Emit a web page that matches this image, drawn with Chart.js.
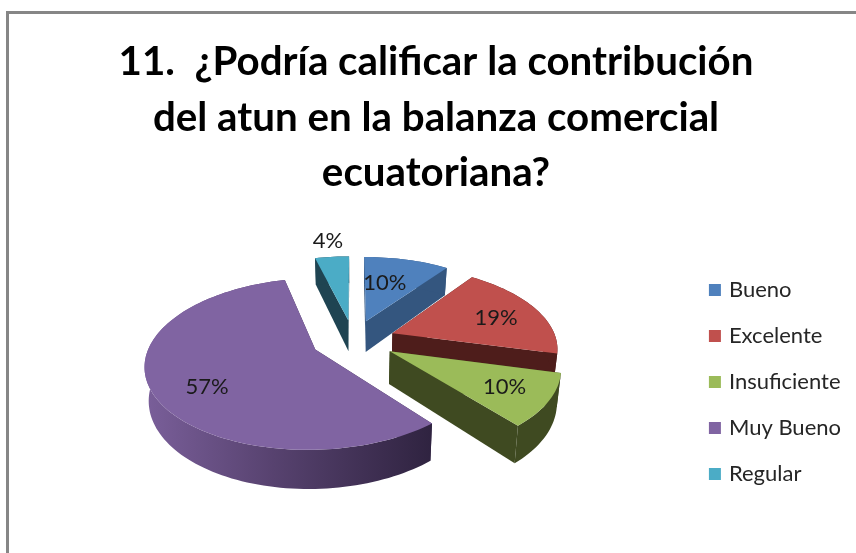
<!DOCTYPE html>
<html>
<head>
<meta charset="utf-8">
<script src="https://cdn.jsdelivr.net/npm/chart.js@4"></script>
<style>
  body { margin: 0; background: #fff; }
  #wrap { position: relative; width: 856px; height: 553px; overflow: hidden; }
  #frame { position: absolute; left: 6px; top: 11px; right: 0; bottom: 0; border-left: 3px solid #868686; border-top: 3px solid #868686; }
  canvas { position: absolute; left: 0; top: 0; }
</style>
</head>
<body>
<div id="wrap">
  <div id="frame"></div>
  <canvas id="pieChart" width="856" height="553"></canvas>
</div>
<script>
const categories = ["Bueno", "Excelente", "Insuficiente", "Muy Bueno", "Regular"];
const percentages = [10, 19, 10, 57, 4];
const titleLines = [
  "11.  ¿Podría calificar la contribución",
  "del atun en la balanza comercial",
  "ecuatoriana?",
];

const faceColors = ["#4F81BD", "#C0504D", "#9BBB59", "#8064A2", "#4BACC6"];
const wallColors = ["#34567F", "#4E1D1B", "#3F4A21", "#3A2C4D", "#1F4452"];

// label spot for each slice: distance out (1 = rim) and turn off the slice middle
const labelReach = [0.57, 0.7, 0.74, 0.72, 1.3];
const labelTurn = [-0.07, 0.05, 0, -0.15, 0];

// fake 3D view, Chart.js only does flat pies
const tilt = 0.49;
const perspective = 0.001;
const thickness = 32;
const shiftX = -1;
const shiftY = -42;

function project(el, u, v, z) {
  const k = 1 / (1 - v * perspective);
  const shrink = 1 - 0.02 * z;
  return {
    x: el.x + shiftX + u * k * shrink,
    y: el.y + shiftY + (v * tilt + thickness * z) * k,
  };
}

function slicePoint(el, angle, r, z) {
  const mid = (el.startAngle + el.endAngle) / 2;
  const off = el.options.offset;
  return project(
    el,
    Math.cos(angle) * r + Math.cos(mid) * off,
    Math.sin(angle) * r + Math.sin(mid) * off,
    z
  );
}

function arcPoints(el, z) {
  const pts = [];
  const steps = Math.max(8, Math.ceil((el.endAngle - el.startAngle) / 0.03));
  for (let i = 0; i <= steps; i++) {
    const a = el.startAngle + ((el.endAngle - el.startAngle) * i) / steps;
    pts.push(slicePoint(el, a, el.outerRadius, z));
  }
  return pts;
}

function fillPoly(ctx, pts, fill) {
  ctx.beginPath();
  pts.forEach((p, i) => (i ? ctx.lineTo(p.x, p.y) : ctx.moveTo(p.x, p.y)));
  ctx.closePath();
  ctx.fillStyle = fill;
  ctx.fill();
}

const pie3d = {
  id: "pie3d",
  beforeDatasetDraw(chart, args) {
    const ctx = chart.ctx;
    const arcs = chart.getDatasetMeta(args.index).data;
    // back slices first
    const order = arcs
      .map((el, i) => ({ el, i }))
      .sort((a, b) => {
        const ma = (a.el.startAngle + a.el.endAngle) / 2;
        const mb = (b.el.startAngle + b.el.endAngle) / 2;
        return Math.sin(ma) - Math.sin(mb);
      });

    order.forEach(({ el, i }) => {
      const top = arcPoints(el, 0);
      const bottom = arcPoints(el, 1);
      const apexTop = slicePoint(el, el.startAngle, 0, 0);
      const apexBottom = slicePoint(el, el.startAngle, 0, 1);

      // cut walls
      fillPoly(ctx, [apexTop, top[0], bottom[0], apexBottom], wallColors[i]);
      fillPoly(
        ctx,
        [apexTop, top[top.length - 1], bottom[bottom.length - 1], apexBottom],
        wallColors[i]
      );

      // outer rim, the big slice gets the shaded look
      let rimFill = wallColors[i];
      if (percentages[i] > 50) {
        const xs = top.map((p) => p.x);
        rimFill = ctx.createLinearGradient(Math.min(...xs), 0, Math.max(...xs), 0);
        rimFill.addColorStop(0, "#7A5F9A");
        rimFill.addColorStop(0.45, "#57426F");
        rimFill.addColorStop(1, "#2F2340");
      }
      fillPoly(ctx, top.concat(bottom.slice().reverse()), rimFill);

      fillPoly(ctx, [apexTop].concat(top), faceColors[i]);
    });

    // percent labels
    ctx.font = "22px Lato";
    ctx.fillStyle = "#1A1A1A";
    ctx.textAlign = "center";
    ctx.textBaseline = "middle";
    arcs.forEach((el, i) => {
      const mid = (el.startAngle + el.endAngle) / 2;
      const p = slicePoint(el, mid + labelTurn[i], el.outerRadius * labelReach[i], 0);
      ctx.fillText(percentages[i] + "%", p.x, p.y);
    });
    return false;
  },
};

new Chart(document.getElementById("pieChart"), {
  type: "pie",
  data: {
    labels: categories,
    datasets: [
      {
        data: percentages,
        backgroundColor: faceColors,
        // only the legend swatches use this border, keeps the text close to them
        borderColor: faceColors,
        borderWidth: 6,
        offset: 42,
      },
    ],
  },
  options: {
    responsive: false,
    animation: false,
    radius: 164,
    layout: { padding: { top: 0, right: 5, bottom: 0, left: 21 } },
    plugins: {
      title: {
        display: true,
        text: titleLines,
        color: "#000",
        font: { family: "Lato", size: 40.3, weight: "bold", lineHeight: 1.365 },
        padding: { top: 35, bottom: 11 },
      },
      legend: {
        position: "right",
        fullSize: false,
        labels: {
          color: "#262626",
          font: { family: "Lato", size: 22 },
          boxWidth: 6,
          boxHeight: 6,
          padding: 24,
        },
      },
      tooltip: { enabled: false },
    },
  },
  plugins: [pie3d],
});
</script>
</body>
</html>
